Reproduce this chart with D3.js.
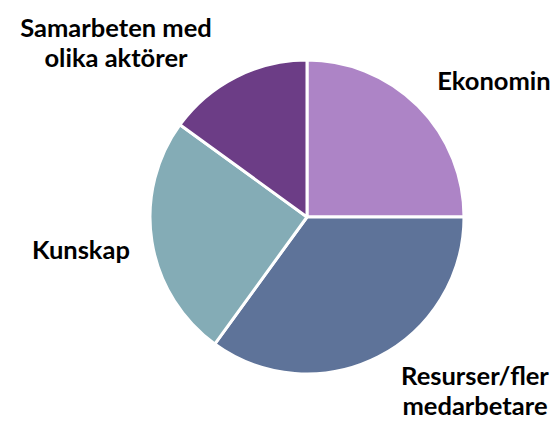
<!DOCTYPE html>
<html>
<head>
<meta charset="utf-8">
<script src="https://cdn.jsdelivr.net/npm/d3@7"></script>
<style>
  body { margin: 0; background: #fff; }
  svg text { font-family: Lato, "Open Sans", sans-serif; font-weight: bold; fill: #000; }
</style>
</head>
<body>
<div id="chart"></div>
<script>
const WIDTH = 560, HEIGHT = 423;
const CX = 307, CY = 217, RADIUS = 157;

// data (clockwise from 12 o'clock)
const categories = ["Ekonomin", "Resurser/fler medarbetare", "Kunskap", "Samarbeten med olika aktörer"];
const values = [25, 35, 25, 15];
const colors = ["#ad84c6", "#5e7399", "#84acb6", "#6c3d86"];

// label lines and anchors
const labelLines = [["Ekonomin"], ["Resurser/fler", "medarbetare"], ["Kunskap"], ["Samarbeten med", "olika aktörer"]];
const labelPos = [[494, 90], [475, 385], [81, 259], [116, 37]];
const LINE_H = 30;

const svg = d3.select("#chart").append("svg")
    .attr("width", WIDTH)
    .attr("height", HEIGHT);

const data = categories.map((c, i) => ({ name: c, value: values[i], color: colors[i], lines: labelLines[i], pos: labelPos[i] }));

const pie = d3.pie().value(d => d.value).sort(null);
const arc = d3.arc().innerRadius(0).outerRadius(RADIUS);

const g = svg.append("g").attr("transform", `translate(${CX},${CY})`);
g.selectAll("path")
    .data(pie(data))
    .join("path")
    .attr("d", arc)
    .attr("fill", d => d.data.color)
    .attr("stroke", "#fff")
    .attr("stroke-width", 3)
    .attr("stroke-linejoin", "round");

const labels = svg.selectAll("text.lbl")
    .data(data)
    .join("text")
    .attr("class", "lbl")
    .attr("text-anchor", "middle")
    .attr("font-size", 25.5);
labels.selectAll("tspan")
    .data(d => d.lines.map((t, j) => ({ t, j, pos: d.pos })))
    .join("tspan")
    .attr("x", d => d.pos[0])
    .attr("y", d => d.pos[1] + d.j * LINE_H)
    .text(d => d.t);
</script>
</body>
</html>
